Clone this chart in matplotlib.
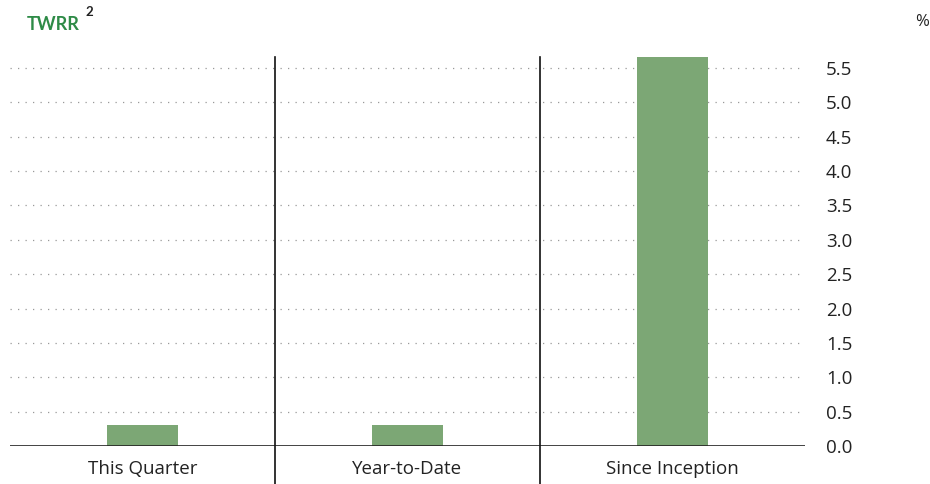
import matplotlib.pyplot as plt

categories = ['This Quarter', 'Year-to-Date', 'Since Inception']
twrr = [0.30, 0.30, 5.66]
yticks = [0.0, 0.5, 1.0, 1.5, 2.0, 2.5, 3.0, 3.5, 4.0, 4.5, 5.0, 5.5]

plt.rcParams['font.family'] = ['Open Sans', 'DejaVu Sans']

fig = plt.figure(figsize=(9.3, 4.84), dpi=100)
ax = fig.add_axes([10/930, 38/484, 795/930, 389/484])

x = list(range(len(categories)))
ax.bar(x, twrr, width=0.27, color='#7ca775', zorder=3)
ax.set_xlim(-0.5, 2.5)
ax.set_ylim(0, max(twrr))

# dotted grid
for t in yticks[1:]:
    ax.axhline(t, color='#999999', lw=0.9, ls=(0, (1, 5)), zorder=1)
ax.axhline(0, color='#222222', lw=1.2, zorder=4)

# separators between categories
for s in [0.5, 1.5]:
    ax.axvline(s, ymin=-38/389, ymax=1, color='#111111', lw=1.2, clip_on=False, zorder=4)

for sp in ax.spines.values():
    sp.set_visible(False)

ax.yaxis.tick_right()
ax.set_yticks(yticks)
ax.set_yticklabels([f'{t:.1f}' for t in yticks], fontsize=13.5, color='#222222')
ax.tick_params(axis='y', length=0, pad=15)
ax.set_xticks(x)
ax.set_xticklabels(categories, fontsize=13.5, color='#222222')
ax.tick_params(axis='x', length=0, pad=10)

fig.text(27/930, 1 - 25/484, 'TWRR', color='#2e8b47', fontsize=13, fontweight='bold',
         family=['Lato', 'DejaVu Sans'], va='center')
fig.text(85/930, 1 - 12/484, '2', color='#222222', fontsize=9.5, fontweight='bold',
         family=['Lato', 'DejaVu Sans'], va='center')
fig.text(922/930, 1 - 22/484, '%', color='#222222', fontsize=12, ha='center', va='center')

fig.savefig('out.png', dpi=100)
